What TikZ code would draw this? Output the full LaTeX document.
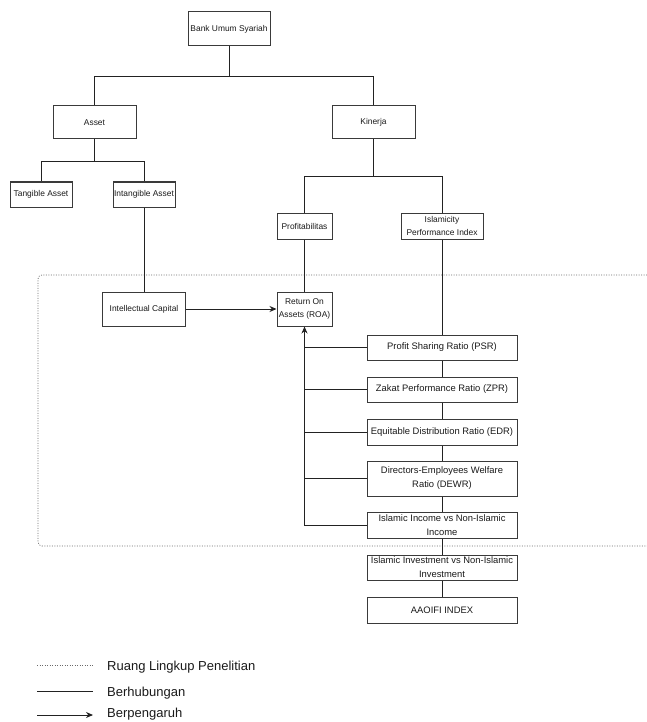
\documentclass[tikz,border=0pt]{standalone}
\usepackage{fontspec}
\setmainfont{Liberation Sans}
\usepackage{xcolor}
\usepackage{tikz}
\usetikzlibrary{arrows.meta,positioning,calc}
\definecolor{cInk}{HTML}{1A1A1A}
\definecolor{cBox}{HTML}{3A3A3A}
\definecolor{cLine}{HTML}{222222}
\definecolor{cGray}{HTML}{6A6A6A}
\tikzset{
  bx/.style={draw=cBox,line width=1pt,fill=white,align=center,inner xsep=1pt,inner ysep=1pt,text=cInk},
  sbx/.style={bx,font=\fontsize{8.4}{12.7}\selectfont},
  rbx/.style={bx,font=\fontsize{9.4}{14}\selectfont,minimum width=150pt,minimum height=25pt},
  ln/.style={line width=0.9pt,color=cLine},
  arr/.style={ln,-{Stealth[length=7pt,width=6pt]}},
  rlp/.style={line width=0.7pt,color=cGray,dash pattern=on 1pt off 1.5pt},
  lgtxt/.style={font=\fontsize{13}{15}\selectfont,text=cInk,anchor=base west,inner sep=0pt},
}

\begin{document}
\begin{tikzpicture}[x=1pt,y=-1pt]
    \useasboundingbox (0,0) rectangle (647,722);
    % research scope (runs past the right edge)
    \draw[rlp,rounded corners=4pt] (662,275) -- (38,275) -- (38,546) -- (662,546);
    % tree
    \node[sbx,minimum width=82pt,minimum height=34pt] (bank) at (229,29) {Bank Umum Syariah};
    \node[sbx,minimum width=83pt,minimum height=33pt] (asset) at (94.5,122.5) {Asset};
    \node[sbx,minimum width=83pt,minimum height=33pt] (kinerja) at (373.5,122.5) {Kinerja};
    \node[sbx,minimum width=62pt,minimum height=25pt] (tangible) at (41,194.5) {Tangible Asset};
    \node[sbx,minimum width=62pt,minimum height=25pt] (intangible) at (144,194.5) {Intangible Asset};
    \node[sbx,minimum width=55pt,minimum height=26pt] (profit) at (304.5,226) {Profitabilitas};
    \node[sbx,minimum width=82pt,minimum height=26pt] (ipi) at (442,226) {Islamicity\\Performance Index};
    \node[sbx,minimum width=83pt,minimum height=34pt] (ic) at (144,309) {Intellectual Capital};
    \node[sbx,minimum width=55pt,minimum height=34pt] (roa) at (304.5,309) {Return On\\Assets (ROA)};
    % ratio column
    \foreach \n/\y/\h/\t in {psr/347.5/25/{Profit Sharing Ratio (PSR)},
                            zpr/389.5/25/{Zakat Performance Ratio (ZPR)},
                            edr/432/26/{Equitable Distribution Ratio (EDR)},
                            dewr/478.5/35/{Directors-Employees Welfare\\Ratio (DEWR)},
                            iinc/525/26/{Islamic Income vs Non-Islamic\\Income},
                            iinv/567.5/25/{Islamic Investment vs Non-Islamic\\Investment},
                            aaoifi/610/26/{AAOIFI INDEX}}{
      \node[rbx,minimum height=\h pt] (\n) at (442,\y) {\t};}
    % joints
    \coordinate (j1) at (229,76);
    \coordinate (j2) at (94.5,161);
    \coordinate (j3) at (373.5,176);
    \draw[ln] (bank.south) -- (j1) -| (asset.north);
    \draw[ln] (j1) -| (kinerja.north);
    \draw[ln] (asset.south) -- (j2) -| (tangible.north);
    \draw[ln] (j2) -| (intangible.north);
    \draw[ln] (kinerja.south) -- (j3) -| (profit.north);
    \draw[ln] (j3) -| (ipi.north);
    \draw[ln] (intangible) -- (ic);
    \draw[ln] (profit) -- (roa);
    \foreach \a/\b in {ipi/psr,psr/zpr,zpr/edr,edr/dewr,dewr/iinc,iinc/iinv,iinv/aaoifi}{
      \draw[ln] (\a) -- (\b);}
    % influences
    \draw[arr] (ic) -- (roa);
    \foreach \n in {psr,zpr,edr,dewr}{
      \draw[ln] (\n.west) -- (\n.west -| roa.south);}
    \draw[arr] (iinc.west) -| (roa.south);
    % legend
    \coordinate (lg1) at (37,665);
    \coordinate (lg2) at (37,691);
    \coordinate (lg3) at (37,715);
    \draw[rlp] (lg1) -- ++(56,0);
    \draw[ln] (lg2) -- ++(56,0);
    \draw[arr] (lg3) -- ++(56,0);
    \node[lgtxt] (lgt1) at (107,670) {Ruang Lingkup Penelitian};
    \node[lgtxt] (lgt2) at (107,696) {Berhubungan};
    \node[lgtxt] (lgt3) at (107,717) {Berpengaruh};
\end{tikzpicture}
\end{document}
